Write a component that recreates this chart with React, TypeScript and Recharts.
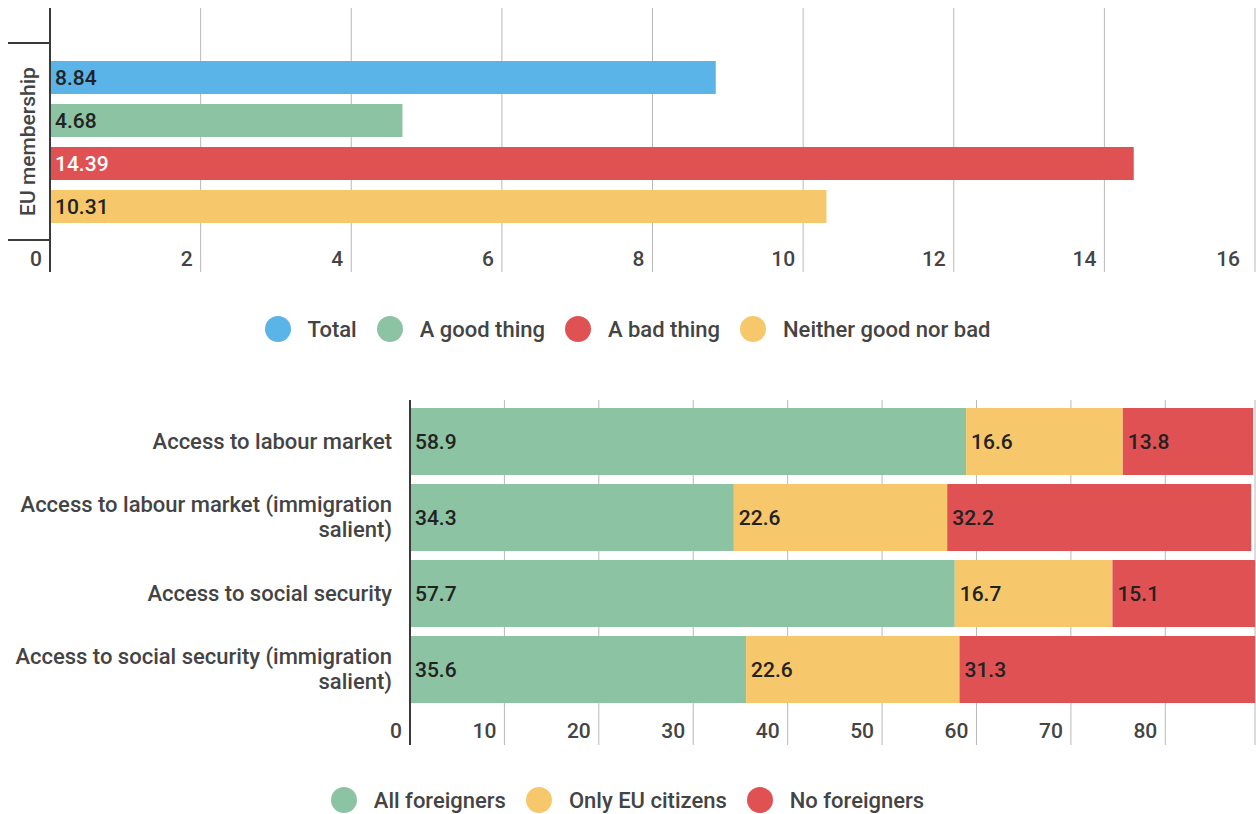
import React from "react";
import { BarChart, Bar, XAxis, YAxis, CartesianGrid, Legend, LabelList } from "recharts";

const FONT = "Roboto, 'Noto Sans', sans-serif";

// top chart: opinion on EU membership
const euCategories = ["EU membership"];
const euSeries = ["Total", "A good thing", "A bad thing", "Neither good nor bad"];
const euTotal = [8.84];
const euGood = [4.68];
const euBad = [14.39];
const euNeither = [10.31];
const euTicks = [0, 2, 4, 6, 8, 10, 12, 14, 16];

// bottom chart: who should get access
const accessCategories = [
    "Access to labour market",
    "Access to labour market (immigration salient)",
    "Access to social security",
    "Access to social security (immigration salient)",
];
const accessSeries = ["All foreigners", "Only EU citizens", "No foreigners"];
const allForeigners = [58.9, 34.3, 57.7, 35.6];
const onlyEu = [16.6, 22.6, 16.7, 22.6];
const noForeigners = [13.8, 32.2, 15.1, 31.3];
const accessTicks = [0, 10, 20, 30, 40, 50, 60, 70, 80];

const BLUE = "#5ab4e7";
const GREEN = "#8cc3a3";
const RED = "#df5153";
const YELLOW = "#f6c86b";
const GRID = "#b8b8b8";
const AXIS = "#3a3a3a";
const TEXT = "#444";
const FS = 21;
const FS_BIG = 22;

const euData = euCategories.map((name, i) => ({
    name,
    total: euTotal[i],
    good: euGood[i],
    bad: euBad[i],
    neither: euNeither[i],
}));

const accessData = accessCategories.map((name, i) => ({
    name,
    all: allForeigners[i],
    eu: onlyEu[i],
    none: noForeigners[i],
}));

// top plot: 8..272, band padded to 43..240
const EU_PAD = { top: 35, bottom: 32 };
const EU_BAND_HALF = (264 - EU_PAD.top - EU_PAD.bottom) / 2;

// simple word wrap measured with canvas
let ctx: CanvasRenderingContext2D | null = null;
function wrap(str: string, maxWidth: number, font: string) {
    if (!ctx) ctx = document.createElement("canvas").getContext("2d");
    if (!ctx) return [str];
    ctx.font = font;
    const lines: string[] = [];
    let cur = "";
    for (const w of str.split(" ")) {
        const next = cur ? cur + " " + w : w;
        if (cur && ctx.measureText(next).width > maxWidth) {
            lines.push(cur);
            cur = w;
        } else cur = next;
    }
    if (cur) lines.push(cur);
    return lines;
}

function DotLegend({ payload, height, order }: any) {
    const items = [...(payload || [])].sort((a: any, b: any) => order.indexOf(a.value) - order.indexOf(b.value));
    return (
        <div style={{ display: "flex", justifyContent: "center", alignItems: "center", height, fontFamily: FONT, fontSize: FS_BIG, fontWeight: 500, color: TEXT }}>
            {items.map((p: any, i: number) => (
                <div key={i} style={{ display: "flex", alignItems: "center", marginLeft: i ? 20 : 0 }}>
                    <span style={{ display: "inline-block", width: 26, height: 26, borderRadius: "50%", background: p.color, marginRight: 17 }} />
                    <span>{p.value}</span>
                </div>
            ))}
        </div>
    );
}

function NumTick({ x, y, payload, lift }: any) {
    return (
        <text x={x - 8} y={y - lift} textAnchor="end" dominantBaseline="central" fill={TEXT} fontSize={FS} fontWeight={500} fontFamily={FONT}>
            {payload.value}
        </text>
    );
}

function EuTick({ x, y, payload }: any) {
    return (
        <g>
            <line x1={x - 42} x2={x} y1={y - EU_BAND_HALF} y2={y - EU_BAND_HALF} stroke={AXIS} strokeWidth={2} />
            <line x1={x - 42} x2={x} y1={y + EU_BAND_HALF} y2={y + EU_BAND_HALF} stroke={AXIS} strokeWidth={2} />
            <text transform={`translate(${x - 22},${y}) rotate(-90)`} textAnchor="middle" dominantBaseline="central" fill={TEXT} fontSize={FS} fontWeight={500} fontFamily={FONT}>
                {payload.value}
            </text>
        </g>
    );
}

const LINE_H = 25;

function CatTick({ x, y, payload }: any) {
    const lines = wrap(String(payload.value), 385, `500 ${FS_BIG}px Roboto`);
    const top = y - ((lines.length - 1) * LINE_H) / 2;
    return (
        <text textAnchor="end" fill={TEXT} fontSize={FS_BIG} fontWeight={500} fontFamily={FONT}>
            {lines.map((l, i) => (
                <tspan key={i} x={x - 18} y={top + i * LINE_H} dominantBaseline="central">{l}</tspan>
            ))}
        </text>
    );
}

const labelStyle = { fontSize: FS, fontFamily: FONT, fontWeight: 500 };

export default function App() {
    return (
        <div style={{ position: "absolute", left: 0, top: 0, width: 1256, height: 814, background: "#fff" }}>
            <BarChart width={1256} height={350} data={euData} layout="vertical" barSize={33} barGap={10}
                margin={{ top: 8, right: 1, left: 0, bottom: 6 }}>
                <CartesianGrid horizontal={false} stroke={GRID} />
                <XAxis type="number" domain={[0, 16]} ticks={euTicks} height={42} axisLine={false} tickLine={false}
                    tickSize={0} tickMargin={0} tick={(p: any) => <NumTick {...p} lift={13} />} />
                <YAxis type="category" dataKey="name" width={50} padding={EU_PAD} axisLine={{ stroke: AXIS, strokeWidth: 2 }}
                    tickLine={false} tickSize={0} tickMargin={0} tick={(p: any) => <EuTick {...p} />} />
                <Legend verticalAlign="bottom" height={30} content={(p: any) => <DotLegend {...p} height={30} order={euSeries} />} />
                <Bar dataKey="total" name={euSeries[0]} fill={BLUE} isAnimationActive={false}>
                    <LabelList dataKey="total" position="insideLeft" offset={5} fill="#222" {...labelStyle} />
                </Bar>
                <Bar dataKey="good" name={euSeries[1]} fill={GREEN} isAnimationActive={false}>
                    <LabelList dataKey="good" position="insideLeft" offset={5} fill="#222" {...labelStyle} />
                </Bar>
                <Bar dataKey="bad" name={euSeries[2]} fill={RED} isAnimationActive={false}>
                    <LabelList dataKey="bad" position="insideLeft" offset={5} fill="#fff" {...labelStyle} />
                </Bar>
                <Bar dataKey="neither" name={euSeries[3]} fill={YELLOW} isAnimationActive={false}>
                    <LabelList dataKey="neither" position="insideLeft" offset={5} fill="#222" {...labelStyle} />
                </Bar>
            </BarChart>
            <div style={{ height: 30 }} />
            <BarChart width={1256} height={434} data={accessData} layout="vertical" barSize={67}
                margin={{ top: 20, right: 1, left: 0, bottom: 0 }}>
                <CartesianGrid horizontal={false} stroke={GRID} />
                <XAxis type="number" domain={[0, "dataMax"]} ticks={accessTicks} height={41} axisLine={false} tickLine={false}
                    tickSize={0} tickMargin={0} tick={(p: any) => <NumTick {...p} lift={14} />} />
                <YAxis type="category" dataKey="name" width={410} padding={{ top: 3, bottom: 38 }}
                    axisLine={{ stroke: AXIS, strokeWidth: 2 }} tickLine={false} tickSize={0} tickMargin={0}
                    tick={(p: any) => <CatTick {...p} />} />
                <Legend verticalAlign="bottom" height={28} content={(p: any) => <DotLegend {...p} height={28} order={accessSeries} />} />
                <Bar dataKey="all" stackId="a" name={accessSeries[0]} fill={GREEN} isAnimationActive={false}>
                    <LabelList dataKey="all" position="insideLeft" offset={5} fill="#222" {...labelStyle} />
                </Bar>
                <Bar dataKey="eu" stackId="a" name={accessSeries[1]} fill={YELLOW} isAnimationActive={false}>
                    <LabelList dataKey="eu" position="insideLeft" offset={5} fill="#222" {...labelStyle} />
                </Bar>
                <Bar dataKey="none" stackId="a" name={accessSeries[2]} fill={RED} isAnimationActive={false}>
                    <LabelList dataKey="none" position="insideLeft" offset={5} fill="#222" {...labelStyle} />
                </Bar>
            </BarChart>
        </div>
    );
}
